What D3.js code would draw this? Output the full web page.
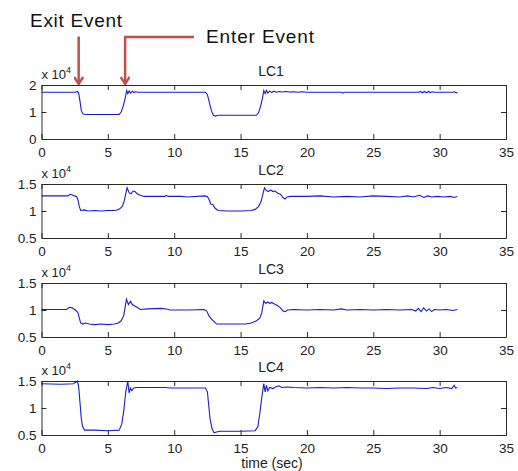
<!DOCTYPE html>
<html>
<head>
<meta charset="utf-8">
<script src="https://cdn.jsdelivr.net/npm/d3@7"></script>
<style>
  body { margin: 0; background: #fff; }
  text { font-family: "Liberation Sans", Arial, sans-serif; }
</style>
</head>
<body>
<div id="chart"></div>
<script>
// load cell readings, [time (sec), value x 10^4]
var lc1 = [[0,1.73],[2.55,1.73],[2.7,1.76],[2.8,1.7],[2.9,1.4],[3.0,1.05],[3.12,0.93],[3.3,0.91],[4.5,0.91],[5.85,0.91],
  [6.0,1.0],[6.15,1.2],[6.3,1.5],[6.42,1.8],[6.5,1.68],[6.6,1.78],[6.7,1.7],[6.85,1.77],[6.95,1.72],[7.1,1.75],[7.25,1.73],
  [12.35,1.73],[12.5,1.65],[12.65,1.35],[12.8,1.05],[12.95,0.88],[13.1,0.85],[13.3,0.88],[14.5,0.88],[16.2,0.88],
  [16.35,0.97],[16.5,1.2],[16.65,1.5],[16.75,1.8],[16.85,1.68],[16.95,1.8],[17.05,1.7],[17.2,1.78],[17.35,1.72],[17.5,1.77],
  [17.7,1.73],[17.9,1.76],[18.1,1.74],[18.4,1.76],[18.7,1.74],[19.0,1.75],[19.3,1.73],[19.6,1.75],[20.0,1.73],[22.6,1.73],
  [22.7,1.70],[22.8,1.73],[25.0,1.73],[28.4,1.73],[28.55,1.76],[28.7,1.71],[28.85,1.76],[29.0,1.71],[29.15,1.76],[29.3,1.72],
  [29.45,1.75],[29.6,1.73],[31.0,1.73],[31.1,1.75],[31.25,1.71],[31.35,1.73]];

var lc2 = [[0,1.28],[2.0,1.28],[2.15,1.31],[2.3,1.30],[2.45,1.28],[2.65,1.27],[2.75,1.2],[2.85,1.08],[2.95,1.01],[3.2,1.02],
  [3.5,1.0],[4.0,1.01],[4.5,1.0],[5.0,1.01],[5.5,1.01],[5.7,1.02],[5.9,1.04],[6.1,1.09],[6.25,1.2],[6.35,1.32],[6.45,1.43],
  [6.6,1.34],[6.75,1.32],[6.9,1.37],[7.05,1.36],[7.2,1.32],[7.45,1.29],[7.7,1.27],[9.3,1.27],[9.4,1.29],[9.55,1.27],
  [10.5,1.27],[11,1.26],[12.3,1.28],[12.5,1.27],[12.65,1.2],[12.75,1.13],[12.9,1.12],[13.05,1.06],[13.3,1.01],[14,1.0],
  [15,1.0],[15.8,1.01],[16.1,1.03],[16.35,1.08],[16.55,1.18],[16.7,1.33],[16.8,1.43],[16.95,1.38],[17.1,1.36],[17.25,1.39],
  [17.45,1.36],[17.6,1.37],[17.8,1.33],[18.0,1.31],[18.2,1.25],[18.35,1.22],[18.5,1.26],[18.8,1.27],[20,1.27],[21,1.28],
  [22,1.26],[23,1.27],[24,1.26],[25,1.28],[26,1.27],[27,1.26],[27.6,1.28],[28,1.26],[28.5,1.29],[28.8,1.25],[29.1,1.28],
  [29.4,1.26],[29.8,1.27],[30.3,1.26],[30.8,1.27],[31.1,1.25],[31.33,1.27]];

var lc3 = [[0,1.01],[1.9,1.01],[2.1,1.05],[2.3,1.04],[2.55,1.0],[2.75,0.95],[2.85,0.85],[2.95,0.76],[3.1,0.74],[3.3,0.76],
  [3.6,0.74],[4.0,0.73],[4.5,0.74],[5.0,0.73],[5.5,0.74],[5.8,0.76],[6.0,0.8],[6.2,0.9],[6.3,1.05],[6.4,1.2],[6.55,1.1],
  [6.7,1.16],[6.85,1.1],[7.0,1.08],[7.2,1.05],[7.45,1.01],[8.0,1.02],[9.0,1.03],[9.4,1.02],[9.7,1.0],[11,1.0],[12.25,1.01],
  [12.45,0.98],[12.6,0.9],[12.75,0.85],[12.95,0.8],[13.2,0.74],[14,0.74],[15.4,0.74],[15.8,0.76],[16.2,0.8],[16.45,0.85],
  [16.6,0.95],[16.75,1.17],[16.9,1.12],[17.05,1.15],[17.2,1.12],[17.35,1.14],[17.55,1.11],[17.8,1.08],[18.0,1.04],
  [18.2,0.98],[18.35,0.97],[18.55,1.0],[19,1.01],[20,1.0],[21,1.01],[22,1.0],[22.6,1.02],[23,1.0],[24,1.01],[25,1.0],
  [26,1.01],[27,1.0],[27.9,1.01],[28.2,0.98],[28.4,1.03],[28.6,0.97],[28.8,1.04],[29.0,0.98],[29.2,1.02],[29.4,0.97],
  [29.6,1.01],[30.0,1.0],[30.5,1.01],[31.0,0.99],[31.33,1.01]];

var lc4 = [[0,1.45],[1.5,1.44],[2.4,1.45],[2.6,1.48],[2.7,1.5],[2.8,1.4],[2.9,1.1],[3.0,0.8],[3.1,0.65],[3.25,0.59],[4,0.59],
  [5,0.58],[5.85,0.59],[6.05,0.7],[6.2,0.95],[6.35,1.3],[6.5,1.5],[6.6,1.28],[6.7,1.37],[6.8,1.32],[6.95,1.37],[7.2,1.38],
  [8,1.38],[9.4,1.38],[9.6,1.37],[11,1.37],[12.35,1.37],[12.5,1.3],[12.6,1.05],[12.7,0.8],[12.85,0.62],[13.0,0.54],
  [13.25,0.56],[13.5,0.57],[15,0.57],[16.1,0.58],[16.3,0.65],[16.45,0.9],[16.6,1.2],[16.75,1.45],[16.85,1.3],[16.95,1.42],
  [17.05,1.32],[17.2,1.38],[17.45,1.36],[17.7,1.4],[17.9,1.41],[18.1,1.38],[18.5,1.39],[19,1.38],[20,1.37],[21,1.38],
  [22,1.37],[23,1.38],[24,1.37],[25,1.37],[26,1.36],[27,1.37],[28,1.37],[29,1.36],[29.5,1.38],[30,1.36],[30.5,1.38],
  [30.9,1.36],[31.1,1.42],[31.2,1.37],[31.33,1.38]];

var titles = ["LC1", "LC2", "LC3", "LC4"];
var yDomains = [[0, 2], [0.5, 1.5], [0.5, 1.5], [0.5, 1.5]];
var yTicks = [[0, 1, 2], [0.5, 1, 1.5], [0.5, 1, 1.5], [0.5, 1, 1.5]];
var xTicks = [0, 5, 10, 15, 20, 25, 30, 35];
var exitTime = 2.8, enterTime = 6.3;

var series = [lc1, lc2, lc3, lc4];

var svgWidth = 518, svgHeight = 471;
var left = 41.5, right = 506;
var tops = [85, 184, 283, 381];
var plotH = 54;
var tickLen = 5;

var svg = d3.select("#chart").append("svg")
  .attr("width", svgWidth)
  .attr("height", svgHeight);

var x = d3.scaleLinear().domain([0, 35]).range([left, right]);

series.forEach(function(data, i) {
  var top = tops[i], bottom = top + plotH;
  var y = d3.scaleLinear().domain(yDomains[i]).range([bottom, top]);
  var g = svg.append("g");

  // data line
  g.append("path")
    .datum(data)
    .attr("fill", "none")
    .attr("stroke", "#1a1ad6")
    .attr("stroke-width", 1.1)
    .attr("d", d3.line().x(d => x(d[0])).y(d => y(d[1])));

  // axes, matlab style: inward ticks on all four sides
  var bottomAxis = d3.axisBottom(x).tickValues(xTicks).tickSizeInner(-tickLen).tickSizeOuter(0).tickPadding(8);
  var topAxis = d3.axisTop(x).tickValues(xTicks).tickSizeInner(-tickLen).tickSizeOuter(0).tickFormat("");
  var leftAxis = d3.axisLeft(y).tickValues(yTicks[i]).tickSizeInner(-tickLen).tickSizeOuter(0).tickPadding(5).tickFormat(d3.format("~g"));
  var rightAxis = d3.axisRight(y).tickValues(yTicks[i]).tickSizeInner(-tickLen).tickSizeOuter(0).tickFormat("");

  [[bottomAxis, `translate(0,${bottom})`], [topAxis, `translate(0,${top})`],
   [leftAxis, `translate(${left},0)`], [rightAxis, `translate(${right},0)`]].forEach(function(a) {
    var ax = g.append("g").attr("transform", a[1]).call(a[0]);
    ax.select(".domain").attr("stroke", "#2a2a2a");
    ax.selectAll(".tick line").attr("stroke", "#2a2a2a");
    ax.selectAll(".tick text")
      .attr("fill", "#222")
      .style("font-size", "13.5px")
      .style("font-family", "'Liberation Sans', Arial, sans-serif");
  });

  // title
  g.append("text")
    .attr("x", 271)
    .attr("y", top - 9)
    .attr("text-anchor", "middle")
    .attr("fill", "#222")
    .style("font-size", "14px")
    .text(titles[i]);

  // exponent label
  var ex = g.append("text")
    .attr("x", left)
    .attr("y", top - 6.5)
    .attr("fill", "#222")
    .style("font-size", "13px")
    .text("x 10");
  ex.append("tspan")
    .attr("dy", -6)
    .style("font-size", "9px")
    .text("4");
});

// x label
svg.append("text")
  .attr("x", 272)
  .attr("y", 468)
  .attr("text-anchor", "middle")
  .attr("fill", "#222")
  .style("font-size", "14px")
  .text("time (sec)");

// annotations
var red = "#c0504d";
var yTop1 = d3.scaleLinear().domain(yDomains[0]).range([tops[0] + plotH, tops[0]]);
var tipY = yTop1(2) - 1;

svg.append("defs").append("marker")
  .attr("id", "head")
  .attr("viewBox", "0 0 10 10")
  .attr("refX", 9).attr("refY", 5)
  .attr("markerUnits", "userSpaceOnUse")
  .attr("markerWidth", 10).attr("markerHeight", 10)
  .attr("orient", "auto")
  .append("path")
  .attr("d", "M2,0.5L9,5L2,9.5")
  .attr("fill", "none")
  .attr("stroke", red)
  .attr("stroke-width", 2.4)
  .attr("stroke-linejoin", "miter");

svg.append("text")
  .attr("x", 30).attr("y", 26.5)
  .attr("fill", "#111")
  .attr("textLength", 92)
  .style("font-size", "19px")
  .text("Exit Event");

svg.append("text")
  .attr("x", 206).attr("y", 42.5)
  .attr("fill", "#111")
  .attr("textLength", 108)
  .style("font-size", "19px")
  .text("Enter Event");

svg.append("path")
  .attr("d", `M${x(exitTime)},36.5V${tipY}`)
  .attr("fill", "none")
  .attr("stroke", red)
  .attr("stroke-width", 2.5)
  .attr("marker-end", "url(#head)");

svg.append("path")
  .attr("d", `M194,37H${x(enterTime)}V${tipY}`)
  .attr("fill", "none")
  .attr("stroke", red)
  .attr("stroke-width", 2.5)
  .attr("marker-end", "url(#head)");
</script>
</body>
</html>
